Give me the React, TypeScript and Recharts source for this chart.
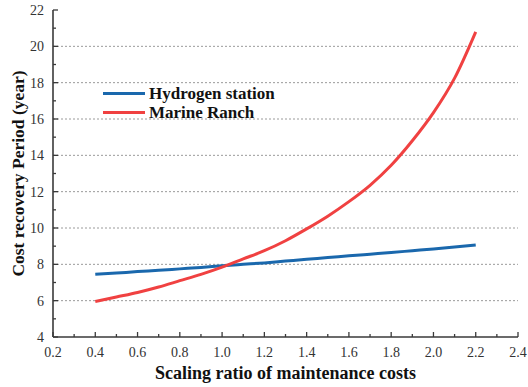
import React from "react";
import {
  LineChart,
  Line,
  XAxis,
  YAxis,
  ReferenceLine,
} from "recharts";

const ratioX = [0.4, 0.5, 0.6, 0.7, 0.8, 0.9, 1.0, 1.1, 1.2, 1.3, 1.4, 1.5, 1.6, 1.7, 1.8, 1.9, 2.0, 2.1, 2.2];
const hydrogen = [7.45, 7.52, 7.6, 7.67, 7.75, 7.83, 7.92, 8.0, 8.08, 8.18, 8.28, 8.37, 8.47, 8.56, 8.65, 8.75, 8.85, 8.96, 9.07];
const marine = [5.95, 6.2, 6.45, 6.75, 7.1, 7.45, 7.85, 8.3, 8.75, 9.3, 9.95, 10.65, 11.45, 12.35, 13.45, 14.8, 16.35, 18.25, 20.8];

const xTicks = [0.2, 0.3, 0.4, 0.5, 0.6, 0.7, 0.8, 0.9, 1.0, 1.1, 1.2, 1.3, 1.4, 1.5, 1.6, 1.7, 1.8, 1.9, 2.0, 2.1, 2.2, 2.3, 2.4];
const yTicks = [4, 5, 6, 7, 8, 9, 10, 11, 12, 13, 14, 15, 16, 17, 18, 19, 20, 21, 22];
const gridY = [6, 8, 10, 12, 14, 16, 18, 20];

const seriesNames = ["Hydrogen station", "Marine Ranch"];
const seriesColors = ["#1a68ad", "#f04141"];

const data = ratioX.map((x, i) => ({ x, hydrogen: hydrogen[i], marine: marine[i] }));

const FONT = "'Liberation Serif', 'Times New Roman', serif";
const AXIS = "#3a3a3a";

const isMajor = (v: number, step: number) => Math.abs(Math.round(v / step) * step - v) < 1e-6;

const XTick = (props: any) => {
  const { x, y, payload } = props;
  const v = payload.value as number;
  const major = isMajor(v, 0.2);
  const axisY = y - 9;
  return (
    <g>
      <line x1={x} x2={x} y1={axisY} y2={axisY - (major ? 5 : 3)} stroke={AXIS} strokeWidth={1.3} />
      {major && (
        <text x={x} y={y + 11} textAnchor="middle" style={{ fontFamily: FONT, fontSize: 14 }} fill="#333">
          {v.toFixed(1)}
        </text>
      )}
    </g>
  );
};

const YTick = (props: any) => {
  const { x, y, payload } = props;
  const v = payload.value as number;
  const major = isMajor(v, 2);
  const axisX = x + 9;
  return (
    <g>
      <line x1={axisX} x2={axisX + (major ? 5 : 3)} y1={y} y2={y} stroke={AXIS} strokeWidth={1.3} />
      {major && (
        <text x={x} y={y + 5} textAnchor="end" style={{ fontFamily: FONT, fontSize: 14 }} fill="#333">
          {v}
        </text>
      )}
    </g>
  );
};

// legend drawn on top of the plot so it doesn't eat into chart space
const LegendBox = () => (
  <div style={{ position: "absolute", left: 103, top: 84, fontFamily: FONT, fontWeight: "bold", fontSize: 17, color: "#111" }}>
    {seriesNames.map((name, i) => (
      <div key={name} style={{ display: "flex", alignItems: "center", height: 19 }}>
        <span style={{ display: "inline-block", width: 42, height: 3, background: seriesColors[i], marginRight: 4 }} />
        <span>{name}</span>
      </div>
    ))}
  </div>
);

export default function App() {
  return (
    <div style={{ position: "absolute", left: 0, top: 0, width: 528, height: 387, background: "#fff" }}>
      <LineChart width={528} height={387} data={data} margin={{ top: 10, right: 10, left: 0, bottom: 0 }}>
        {gridY.map((g) => (
          <ReferenceLine key={g} y={g} stroke="#9a9a9a" strokeDasharray="2 2" strokeWidth={1} />
        ))}
        <XAxis
          dataKey="x"
          type="number"
          domain={[0.2, 2.4]}
          ticks={xTicks}
          interval={0}
          height={50}
          tickSize={0}
          tickMargin={9}
          tick={<XTick />}
          axisLine={{ stroke: AXIS, strokeWidth: 1.6 }}
          label={{
            value: "Scaling ratio of maintenance costs",
            position: "center",
            dy: 11,
            style: { fontFamily: FONT, fontWeight: "bold", fontSize: 18, fill: "#111" },
          }}
        />
        <XAxis xAxisId="top" orientation="top" type="number" domain={[0.2, 2.4]} height={0} tick={false} tickLine={false} axisLine={{ stroke: AXIS, strokeWidth: 1.6 }} />
        <YAxis
          type="number"
          domain={[4, 22]}
          ticks={yTicks}
          interval={0}
          width={53}
          tickSize={0}
          tickMargin={9}
          tick={<YTick />}
          axisLine={{ stroke: AXIS, strokeWidth: 1.6 }}
          label={{
            value: "Cost recovery Period (year)",
            angle: -90,
            position: "center",
            dx: -9,
            style: { fontFamily: FONT, fontWeight: "bold", fontSize: 17.5, fill: "#111" },
          }}
        />
        <YAxis yAxisId="right" orientation="right" domain={[4, 22]} width={0} tick={false} tickLine={false} axisLine={{ stroke: AXIS, strokeWidth: 1.6 }} />
        <Line type="monotone" dataKey="hydrogen" stroke={seriesColors[0]} strokeWidth={3} dot={false} isAnimationActive={false} />
        <Line type="monotone" dataKey="marine" stroke={seriesColors[1]} strokeWidth={3} dot={false} isAnimationActive={false} />
      </LineChart>
      <LegendBox />
    </div>
  );
}
